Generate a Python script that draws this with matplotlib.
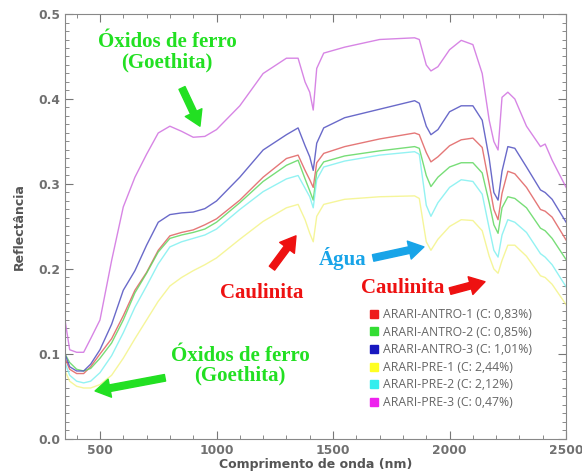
import matplotlib
matplotlib.use("Agg")
import matplotlib.pyplot as plt
from matplotlib.lines import Line2D
from matplotlib.ticker import MultipleLocator

# wavelength grid (nm)
wl = [350, 370, 400, 430, 460, 500, 550, 600, 650, 700, 750, 800, 850, 900, 950,
      1000, 1100, 1200, 1300, 1350, 1380, 1400, 1415, 1430, 1460, 1550, 1700, 1850,
      1870, 1900, 1920, 1950, 2000, 2050, 2100, 2140, 2170, 2190, 2208, 2225, 2250,
      2280, 2330, 2390, 2410, 2440, 2500]

antro_1 = [0.095, 0.082, 0.077, 0.077, 0.085, 0.100, 0.118, 0.145, 0.175, 0.196, 0.222,
           0.239, 0.243, 0.246, 0.252, 0.259, 0.281, 0.308, 0.330, 0.334, 0.316, 0.305,
           0.296, 0.325, 0.336, 0.344, 0.353, 0.360, 0.358, 0.337, 0.326, 0.332, 0.345,
           0.352, 0.354, 0.343, 0.300, 0.270, 0.258, 0.289, 0.315, 0.312, 0.296, 0.270,
           0.268, 0.261, 0.234]
antro_2 = [0.100, 0.090, 0.082, 0.080, 0.083, 0.095, 0.113, 0.140, 0.172, 0.195, 0.220,
           0.236, 0.240, 0.243, 0.247, 0.255, 0.278, 0.303, 0.322, 0.328, 0.306, 0.292,
           0.281, 0.314, 0.326, 0.333, 0.339, 0.344, 0.342, 0.310, 0.297, 0.308, 0.320,
           0.325, 0.325, 0.313, 0.278, 0.252, 0.242, 0.272, 0.285, 0.283, 0.272, 0.248,
           0.245, 0.236, 0.211]
antro_3 = [0.100, 0.085, 0.080, 0.080, 0.088, 0.105, 0.135, 0.175, 0.198, 0.228, 0.255,
           0.264, 0.266, 0.267, 0.271, 0.280, 0.308, 0.340, 0.358, 0.366, 0.345, 0.332,
           0.316, 0.348, 0.366, 0.378, 0.388, 0.398, 0.395, 0.368, 0.358, 0.364, 0.385,
           0.392, 0.392, 0.375, 0.330, 0.290, 0.281, 0.315, 0.344, 0.342, 0.320, 0.293,
           0.290, 0.282, 0.255]
pre_1 = [0.080, 0.068, 0.062, 0.060, 0.060, 0.064, 0.075, 0.095, 0.118, 0.140, 0.162,
         0.180, 0.190, 0.198, 0.205, 0.213, 0.235, 0.256, 0.272, 0.276, 0.258, 0.242,
         0.232, 0.262, 0.276, 0.282, 0.285, 0.286, 0.283, 0.232, 0.222, 0.235, 0.250,
         0.258, 0.257, 0.245, 0.215, 0.200, 0.195, 0.210, 0.228, 0.228, 0.215, 0.192,
         0.190, 0.182, 0.158]
pre_2 = [0.090, 0.075, 0.068, 0.066, 0.068, 0.078, 0.098, 0.125, 0.155, 0.180, 0.206,
         0.226, 0.232, 0.236, 0.240, 0.247, 0.270, 0.291, 0.306, 0.310, 0.295, 0.285,
         0.272, 0.305, 0.320, 0.327, 0.334, 0.338, 0.335, 0.275, 0.262, 0.278, 0.296,
         0.305, 0.303, 0.288, 0.248, 0.222, 0.214, 0.240, 0.258, 0.255, 0.243, 0.218,
         0.214, 0.205, 0.179]
pre_3 = [0.140, 0.105, 0.102, 0.102, 0.118, 0.140, 0.210, 0.273, 0.308, 0.335, 0.360,
         0.368, 0.362, 0.355, 0.356, 0.364, 0.392, 0.430, 0.448, 0.448, 0.420, 0.408,
         0.387, 0.436, 0.454, 0.461, 0.470, 0.472, 0.470, 0.440, 0.433, 0.438, 0.458,
         0.469, 0.464, 0.430, 0.375, 0.350, 0.340, 0.402, 0.408, 0.400, 0.368, 0.344,
         0.347, 0.328, 0.296]

labels = ["ARARI-ANTRO-1 (C: 0,83%)", "ARARI-ANTRO-2 (C: 0,85%)", "ARARI-ANTRO-3 (C: 1,01%)",
          "ARARI-PRE-1 (C: 2,44%)", "ARARI-PRE-2 (C: 2,12%)", "ARARI-PRE-3 (C: 0,47%)"]
series = [antro_1, antro_2, antro_3, pre_1, pre_2, pre_3]
colors = ["#ee1c1c", "#33dd33", "#1818c0", "#ffff22", "#33eeee", "#ee22ee"]
line_colors = ["#e06060", "#60d860", "#5050c0", "#f4f488", "#80f0f0", "#d070e0"]

fig = plt.figure(figsize=(5.82, 4.73), dpi=100)
ax = fig.add_axes([0.1117, 0.0719, 0.861, 0.8985])

for vals, c in zip(series, line_colors):
    ax.plot(wl, vals, color=c, lw=1.0, alpha=0.85)

ax.set_xlim(350, 2500)
ax.set_ylim(0, 0.5)
ax.set_xticks([500, 1000, 1500, 2000, 2500])
ax.set_yticks([0.0, 0.1, 0.2, 0.3, 0.4, 0.5])
ax.set_yticklabels(["0.0", "0.1", "0.2", "0.3", "0.4", "0.5"])
ax.xaxis.set_minor_locator(MultipleLocator(100))
ax.yaxis.set_minor_locator(MultipleLocator(0.01))
ax.tick_params(which="both", direction="in", top=True, right=True, color="#777777")
ax.tick_params(which="major", length=6)
ax.tick_params(which="minor", length=3)
for lab in ax.get_xticklabels() + ax.get_yticklabels():
    lab.set_fontfamily("DejaVu Sans")
    lab.set_fontweight("bold")
    lab.set_fontsize(8.8)
    lab.set_color("#707070")
for sp in ax.spines.values():
    sp.set_color("#888888")

ax.set_xlabel("Comprimento de onda (nm)", fontsize=9, color="#555555", family="DejaVu Sans",
              fontweight="bold", labelpad=1)
ax.set_ylabel("Reflectância", fontsize=9, color="#555555", family="DejaVu Sans",
              fontweight="bold", labelpad=9)

handles = [Line2D([], [], ls="", marker="s", ms=6, color=c) for c in colors]
ax.legend(handles, labels, loc="upper left", bbox_to_anchor=(0.595, 0.32), frameon=False,
          prop={"family": "Open Sans", "size": 8.8}, labelcolor="#666666", labelspacing=0.38,
          handletextpad=0.2, handlelength=1.0, borderaxespad=0)

serif = {"family": "Liberation Serif", "fontweight": "bold", "fontsize": 15}
green = "#22e022"
red = "#ee1111"
blue = "#18a4e8"

ax.text(788, 0.455, "Óxidos de ferro\n(Goethita)", color=green, ha="center", va="center",
        linespacing=1.0, **serif)
ax.text(1101, 0.086, "Óxidos de ferro\n(Goethita)", color=green, ha="center", va="center",
        linespacing=1.0, **serif)
ax.text(1195, 0.172, "Caulinita", color=red, ha="center", va="center", **serif)
ax.text(1543, 0.212, "Água", color=blue, ha="center", va="center", **serif)
ax.text(1800, 0.178, "Caulinita", color=red, ha="center", va="center", **serif)

arrows = [((852, 0.413), (929, 0.368), green),
          ((779, 0.072), (479, 0.0565), green),
          ((1238, 0.201), (1341, 0.239), red),
          ((1672, 0.213), (1890, 0.226), blue),
          ((2002, 0.174), (2152, 0.185), red)]
for tail, head, c in arrows:
    ax.annotate("", xy=head, xytext=tail,
                arrowprops=dict(arrowstyle="simple,head_length=0.9,head_width=1.1,tail_width=0.4",
                                color=c, shrinkA=0, shrinkB=0, mutation_scale=12))

fig.savefig("out.png", dpi=100)
